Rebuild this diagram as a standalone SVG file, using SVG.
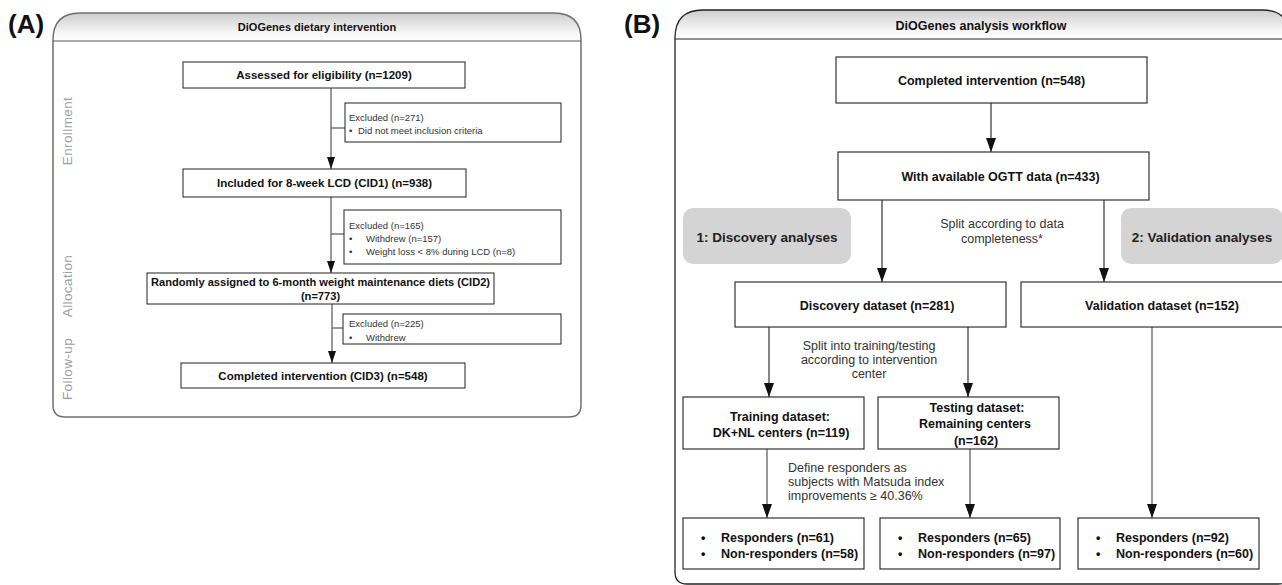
<svg xmlns="http://www.w3.org/2000/svg" width="1282" height="585" viewBox="0 0 1282 585">
<style>
text{font-family:"Liberation Sans",Arial,sans-serif;}
.plabel{font-size:26px;font-weight:bold;fill:#111;}
.titleA{font-size:11px;font-weight:bold;fill:#111;text-anchor:middle;}
.titleB{font-size:12.5px;font-weight:bold;fill:#111;text-anchor:middle;}
.boxA{fill:#fff;stroke:#222;stroke-width:1;}
.boxB{fill:#fff;stroke:#333;stroke-width:1.2;}
.grey{fill:#d4d4d4;stroke:none;}
.tA{font-size:11.5px;font-weight:bold;fill:#111;text-anchor:middle;}
.sA{font-size:9.5px;fill:#333;}
.side{font-size:13.5px;fill:#a0a0a0;text-anchor:middle;letter-spacing:0.4px;}
.tB{font-size:12.5px;font-weight:bold;fill:#111;text-anchor:middle;}
.tBl{font-size:12.5px;font-weight:bold;fill:#111;}
.gB{font-size:13.5px;font-weight:bold;fill:#222;text-anchor:middle;}
.nB{font-size:12.5px;fill:#333;text-anchor:middle;}
.nBl{font-size:12.5px;fill:#333;}
.cA{stroke:#777;stroke-width:1.5;fill:none;}
.cB{stroke:#333;stroke-width:1.2;fill:none;}
.cB2{stroke:#777;stroke-width:1.5;fill:none;}
</style>
<defs>
<linearGradient id="hdr" x1="0" y1="0" x2="0" y2="1">
<stop offset="0" stop-color="#cdcdcd"/>
<stop offset="0.7" stop-color="#f6f6f6"/>
<stop offset="1" stop-color="#ffffff"/>
</linearGradient>
<marker id="arrA" viewBox="0 0 12 8" refX="12" refY="4" markerWidth="12" markerHeight="8" markerUnits="userSpaceOnUse" orient="auto">
<path d="M0,0 L12,4 L0,8 Z" fill="#111"/>
</marker>
<marker id="arrB" viewBox="0 0 14 10" refX="14" refY="5" markerWidth="14" markerHeight="10" markerUnits="userSpaceOnUse" orient="auto">
<path d="M0,0 L14,5 L0,10 Z" fill="#111"/>
</marker>
</defs>

<!-- Panel labels -->
<text class="plabel" x="8" y="33">(A)</text>
<text class="plabel" x="624" y="33">(B)</text>

<!-- Panel A frame -->
<g id="panelA-frame">
<path d="M53,41 L53,40 Q53,13 80,13 L554,13 Q581,13 581,40 L581,41 Z" fill="url(#hdr)"/>
<path d="M53,41 L53,40 Q53,13 80,13 L554,13 Q581,13 581,40 L581,405 Q581,417 569,417 L65,417 Q53,417 53,405 Z" fill="none" stroke="#707070" stroke-width="1.5"/>
<line x1="53" y1="41" x2="581" y2="41" stroke="#555" stroke-width="1.2"/>
<text class="titleA" x="317" y="31">DiOGenes dietary intervention</text>
</g>

<g id="side-labels">
<text class="side" transform="translate(71.5,131) rotate(-90)">Enrollment</text>
<text class="side" transform="translate(71.5,286) rotate(-90)">Allocation</text>
<text class="side" transform="translate(71.5,369) rotate(-90)">Follow-up</text>
</g>

<!-- Panel A connectors -->
<g id="connectorsA">
<line class="cA" x1="331" y1="88" x2="331" y2="169" marker-end="url(#arrA)"/>
<line class="cA" x1="331" y1="128" x2="345" y2="128"/>
<line class="cA" x1="331" y1="197" x2="331" y2="273" marker-end="url(#arrA)"/>
<line class="cA" x1="331" y1="234" x2="344" y2="234"/>
<line class="cA" x1="332" y1="303" x2="332" y2="363" marker-end="url(#arrA)"/>
<line class="cA" x1="332" y1="328" x2="343" y2="328"/>
</g>

<!-- Panel A nodes -->
<g id="a-assessed">
<rect class="boxA" x="183" y="62" width="282" height="26"/>
<text class="tA" x="324" y="79">Assessed for eligibility  (n=1209)</text>
</g>
<g id="a-excluded1">
<rect class="boxA" x="345" y="103" width="216" height="39"/>
<text class="sA" x="349" y="120.5">Excluded (n=271)</text>
<text class="sA" x="349" y="133.5">•</text>
<text class="sA" x="358" y="133.5">Did not meet  inclusion criteria</text>
</g>
<g id="a-included">
<rect class="boxA" x="183" y="169" width="283" height="28"/>
<text class="tA" x="324.5" y="187">Included for 8-week LCD (CID1) (n=938)</text>
</g>
<g id="a-excluded2">
<rect class="boxA" x="344" y="210" width="217" height="54"/>
<text class="sA" x="349" y="228.5">Excluded (n=165)</text>
<text class="sA" x="349" y="241.5">•</text>
<text class="sA" x="366" y="241.5">Withdrew (n=157)</text>
<text class="sA" x="349" y="254.5">•</text>
<text class="sA" x="366" y="254.5">Weight loss &lt; 8% during LCD (n=8)</text>
</g>
<g id="a-randomly">
<rect class="boxA" x="147" y="273" width="347" height="31"/>
<text class="tA" x="320.5" y="286" style="font-size:11.1px">Randomly assigned to 6-month weight maintenance diets (CID2)</text>
<text class="tA" x="320.5" y="300" style="font-size:11.1px">(n=773)</text>
</g>
<g id="a-excluded3">
<rect class="boxA" x="343" y="314" width="218" height="30"/>
<text class="sA" x="349" y="326.5">Excluded (n=225)</text>
<text class="sA" x="349" y="340.5">•</text>
<text class="sA" x="366" y="340.5">Withdrew</text>
</g>
<g id="a-completed">
<rect class="boxA" x="181" y="363" width="284" height="25"/>
<text class="tA" x="323" y="380">Completed intervention (CID3) (n=548)</text>
</g>

<!-- Panel B frame -->
<g id="panelB-frame">
<path d="M675,39 L675,38 Q675,10 703,10 L1262,10 Q1290,10 1290,38 L1290,39 Z" fill="url(#hdr)"/>
<path d="M675,39 L675,38 Q675,10 703,10 L1262,10 Q1290,10 1290,38 L1290,572 Q1290,584 1278,584 L687,584 Q675,584 675,572 Z" fill="none" stroke="#222" stroke-width="1.3"/>
<line x1="675" y1="39" x2="1290" y2="39" stroke="#222" stroke-width="1.2"/>
<text class="titleB" x="981" y="29.5">DiOGenes analysis workflow</text>
</g>

<!-- Panel B connectors -->
<g id="connectorsB">
<line class="cB" x1="991" y1="103" x2="991" y2="152" marker-end="url(#arrB)"/>
<line class="cB" x1="882" y1="200" x2="882" y2="282" marker-end="url(#arrB)"/>
<line class="cB" x1="1104" y1="200" x2="1104" y2="282" marker-end="url(#arrB)"/>
<line class="cB" x1="769" y1="327" x2="769" y2="397" marker-end="url(#arrB)"/>
<line class="cB" x1="968" y1="327" x2="968" y2="397" marker-end="url(#arrB)"/>
<line class="cB2" x1="767" y1="449" x2="767" y2="518" marker-end="url(#arrB)"/>
<line class="cB2" x1="970" y1="449" x2="970" y2="518" marker-end="url(#arrB)"/>
<line class="cB2" x1="1152" y1="327" x2="1152" y2="518" marker-end="url(#arrB)"/>
<text class="nB" x="1002" y="227.5">Split according to data</text>
<text class="nB" x="1002" y="242.5">completeness*</text>
<text class="nB" x="869" y="349.5">Split into training/testing</text>
<text class="nB" x="869" y="363.5">according to intervention</text>
<text class="nB" x="869" y="377.5">center</text>
<text class="nBl" x="788" y="471.5">Define responders as</text>
<text class="nBl" x="788" y="485.5">subjects with Matsuda index</text>
<text class="nBl" x="788" y="499.5">improvements ≥ 40.36%</text>
</g>

<!-- Panel B nodes -->
<g id="b-completed">
<rect class="boxB" x="836" y="57" width="311" height="46"/>
<text class="tB" x="991.5" y="84.5">Completed intervention (n=548)</text>
</g>
<g id="b-ogtt">
<rect class="boxB" x="838" y="152" width="311" height="48"/>
<text class="tB" x="1000.5" y="180.5">With available OGTT data (n=433)</text>
</g>
<g id="b-discovery-label">
<rect class="grey" x="683" y="208" width="168" height="56" rx="10" ry="10"/>
<text class="gB" x="767" y="242">1: Discovery analyses</text>
</g>
<g id="b-validation-label">
<rect class="grey" x="1121" y="208" width="162" height="56" rx="10" ry="10"/>
<text class="gB" x="1202" y="242">2: Validation analyses</text>
</g>
<g id="b-discovery">
<rect class="boxB" x="735" y="282" width="271" height="45"/>
<text class="tB" x="877" y="309.5">Discovery dataset  (n=281)</text>
</g>
<g id="b-validation">
<rect class="boxB" x="1021" y="282" width="275" height="45"/>
<text class="tB" x="1162" y="309.5">Validation dataset  (n=152)</text>
</g>
<g id="b-training">
<rect class="boxB" x="683" y="397" width="181" height="52"/>
<text class="tB" x="780" y="420.5">Training dataset:</text>
<text class="tB" x="781" y="436.5">DK+NL centers  (n=119)</text>
</g>
<g id="b-testing">
<rect class="boxB" x="878" y="397" width="181" height="52"/>
<text class="tB" x="977" y="411.5">Testing dataset:</text>
<text class="tB" x="975" y="427.5">Remaining centers</text>
<text class="tB" x="976" y="444.5">(n=162)</text>
</g>
<g id="b-resp-training">
<rect class="boxB" x="683" y="518" width="181" height="51"/>
<text class="tBl" x="701" y="541.5">•</text>
<text class="tBl" x="721" y="541.5">Responders (n=61)</text>
<text class="tBl" x="701" y="557.5">•</text>
<text class="tBl" x="721" y="557.5">Non-responders (n=58)</text>
</g>
<g id="b-resp-testing">
<rect class="boxB" x="880" y="518" width="180" height="51"/>
<text class="tBl" x="898" y="541.5">•</text>
<text class="tBl" x="918" y="541.5">Responders (n=65)</text>
<text class="tBl" x="898" y="557.5">•</text>
<text class="tBl" x="918" y="557.5">Non-responders (n=97)</text>
</g>
<g id="b-resp-validation">
<rect class="boxB" x="1078" y="518" width="181" height="51"/>
<text class="tBl" x="1096" y="541.5">•</text>
<text class="tBl" x="1116" y="541.5">Responders (n=92)</text>
<text class="tBl" x="1096" y="557.5">•</text>
<text class="tBl" x="1116" y="557.5">Non-responders (n=60)</text>
</g>
</svg>
